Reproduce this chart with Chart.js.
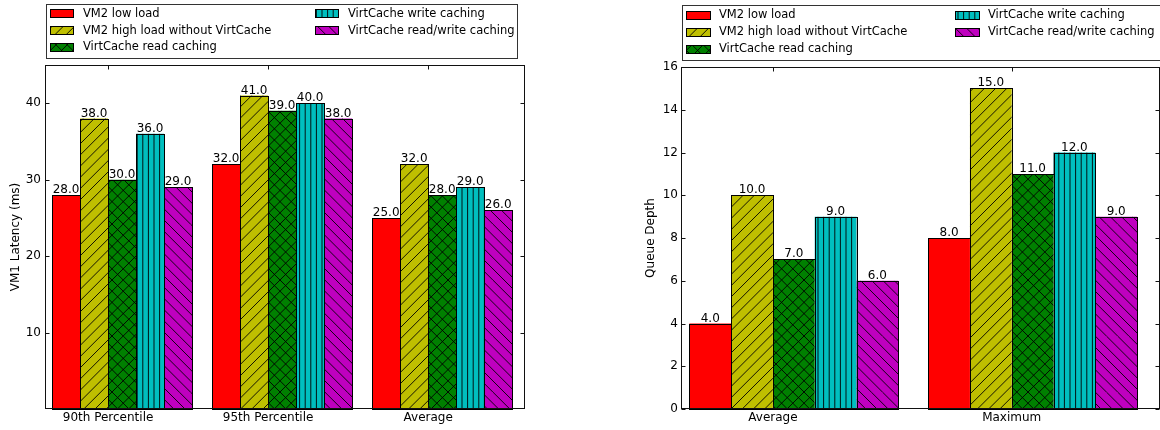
<!DOCTYPE html>
<html>
<head>
<meta charset="utf-8">
<title>VirtCache: VM1 latency and queue depth</title>
<script src="https://cdn.jsdelivr.net/npm/chart.js@4/dist/chart.umd.min.js"></script>
<style>
  html, body { margin: 0; padding: 0; background: #fff; }
  #wrap { position: relative; width: 1160px; height: 430px; }
  #latency { position: absolute; left: 0; top: 0; }
  #queue { position: absolute; left: 580px; top: 0; }
</style>
</head>
<body>
<div id="wrap">
  <canvas id="latency" width="580" height="430"></canvas>
  <canvas id="queue" width="580" height="430"></canvas>
</div>
<script>
// ---- data ----
const seriesNames = [
  'VM2 low load',
  'VM2 high load without VirtCache',
  'VirtCache read caching',
  'VirtCache write caching',
  'VirtCache read/write caching'
];

const latencyCategories = ['90th Percentile', '95th Percentile', 'Average'];
const latencyLowLoad       = [28, 32, 25];
const latencyHighLoad      = [38, 41, 32];
const latencyReadCache     = [30, 39, 28];
const latencyWriteCache    = [36, 40, 29];
const latencyReadWrite     = [29, 38, 26];
const latencyTicks         = [10, 20, 30, 40];

const queueCategories = ['Average', 'Maximum'];
const queueLowLoad    = [4, 8];
const queueHighLoad   = [10, 15];
const queueReadCache  = [7, 11];
const queueWriteCache = [9, 12];
const queueReadWrite  = [6, 9];
const queueTicks      = [0, 2, 4, 6, 8, 10, 12, 14, 16];

// ---- styling ----
Chart.defaults.font.family = "'DejaVu Sans', 'Liberation Sans', sans-serif";
Chart.defaults.color = '#000';

const seriesColors = ['#ff0000', '#bfbf00', '#008000', '#00bfbf', '#bf00bf'];
const seriesHatches = [null, '/', 'x', '|', '\\'];

// Each group of five bars spans 0.875 of one category unit; the tick for
// a group sits at the left edge of its third bar.
const GROUP = 0.875;
const BAR = GROUP / 5;

function makeHatch(bg, kind) {
  if (!kind) return bg;
  const size = 56;
  const c = document.createElement('canvas');
  c.width = size; c.height = size;
  const g = c.getContext('2d');
  g.fillStyle = bg;
  g.fillRect(0, 0, size, size);
  g.strokeStyle = '#000';
  g.lineWidth = 0.9;
  g.beginPath();
  if (kind === '|') {
    for (let x = 2.8; x < size; x += 5.6) { g.moveTo(x, 0); g.lineTo(x, size); }
  }
  if (kind === '/' || kind === 'x') {
    for (let k = -size; k <= 2 * size; k += 11.2) { g.moveTo(k, size); g.lineTo(k + size, 0); }
  }
  if (kind === '\\' || kind === 'x') {
    for (let k = -size; k <= 2 * size; k += 11.2) { g.moveTo(k, 0); g.lineTo(k + size, size); }
  }
  g.stroke();
  return g.createPattern(c, 'repeat');
}

const seriesFills = seriesColors.map((c, i) => makeHatch(c, seriesHatches[i]));

function buildDatasets(seriesValues) {
  return seriesValues.map((values, s) => ({
    label: seriesNames[s],
    data: values.map((v, i) => ({ x: i + GROUP / 2, y: v })),
    backgroundColor: seriesFills[s],
    borderWidth: 0,
    categoryPercentage: GROUP,
    barPercentage: 1
  }));
}

// Bar outlines, value labels, the axes box and inward tick marks.
const axesBox = {
  id: 'axesBox',
  afterDatasetsDraw(chart) {
    const { ctx, chartArea: a, scales: { x, y } } = chart;
    ctx.save();
    ctx.strokeStyle = '#000';
    ctx.lineWidth = 1;
    chart.data.datasets.forEach((ds, i) => {
      chart.getDatasetMeta(i).data.forEach((el) => {
        const l = Math.round(el.x - el.width / 2) + 0.5;
        const r = Math.round(el.x + el.width / 2) + 0.5;
        const t = Math.round(el.y) + 0.5;
        const b = Math.round(el.base) + 0.5;
        ctx.strokeRect(l, t, r - l, b - t);
      });
    });

    ctx.fillStyle = '#000';
    ctx.font = "12px 'DejaVu Sans'";
    ctx.textAlign = 'center';
    ctx.textBaseline = 'alphabetic';
    chart.data.datasets.forEach((ds, i) => {
      chart.getDatasetMeta(i).data.forEach((el, j) => {
        ctx.fillText(ds.data[j].y.toFixed(1), el.x, el.y - 2);
      });
    });

    const L = Math.round(a.left) + 0.5, R = Math.round(a.right) - 0.5;
    const T = Math.round(a.top) + 0.5, B = Math.round(a.bottom) - 0.5;
    ctx.strokeStyle = '#111';
    ctx.strokeRect(L, T, R - L, B - T);
    ctx.beginPath();
    const len = 4;
    y.ticks.forEach((t) => {
      const py = Math.round(y.getPixelForValue(t.value)) + 0.5;
      ctx.moveTo(L, py); ctx.lineTo(L + len, py);
      ctx.moveTo(R, py); ctx.lineTo(R - len, py);
    });
    x.ticks.forEach((t) => {
      const px = Math.round(x.getPixelForValue(t.value)) + 0.5;
      ctx.moveTo(px, B); ctx.lineTo(px, B - len);
      ctx.moveTo(px, T); ctx.lineTo(px, T + len);
    });
    ctx.stroke();
    ctx.restore();
  }
};

// Boxed two-column legend above the plot, filled column by column.
const boxLegend = {
  id: 'boxLegend',
  afterDraw(chart, args, opts) {
    const { ctx } = chart;
    const items = chart.data.datasets;
    const perCol = Math.ceil(items.length / 2);
    ctx.save();
    ctx.fillStyle = '#fff';
    ctx.fillRect(opts.box[0], opts.box[1], opts.box[2] - opts.box[0], opts.box[3] - opts.box[1]);
    ctx.strokeStyle = '#333';
    ctx.lineWidth = 1;
    ctx.strokeRect(Math.round(opts.box[0]) + 0.5, Math.round(opts.box[1]) + 0.5,
                   Math.round(opts.box[2] - opts.box[0]), Math.round(opts.box[3] - opts.box[1]));
    ctx.font = opts.fontSize + "px 'DejaVu Sans'";
    ctx.textAlign = 'left';
    ctx.textBaseline = 'middle';
    items.forEach((ds, i) => {
      const col = Math.floor(i / perCol);
      const row = i % perCol;
      const sx = opts.cols[col];
      const cy = opts.rows[row];
      const sw = opts.swatch[0], sh = opts.swatch[1];
      const top = Math.round(cy - sh / 2);
      ctx.fillStyle = ds.backgroundColor;
      ctx.fillRect(sx, top, sw, sh);
      ctx.strokeStyle = '#000';
      ctx.strokeRect(sx + 0.5, top + 0.5, sw, sh);
      ctx.fillStyle = '#000';
      ctx.fillText(ds.label, sx + opts.textGap, cy + 0.5);
    });
    ctx.restore();
  }
};

function makeChart(canvasId, cfg) {
  return new Chart(document.getElementById(canvasId), {
    type: 'bar',
    data: { datasets: buildDatasets(cfg.series) },
    options: {
      responsive: false,
      animation: false,
      devicePixelRatio: 1,
      layout: { padding: cfg.padding },
      plugins: {
        legend: { display: false },
        tooltip: { enabled: false },
        boxLegend: cfg.legend
      },
      scales: {
        x: {
          type: 'linear',
          offset: false,
          min: cfg.xRange[0],
          max: cfg.xRange[1],
          grid: { display: false, drawTicks: false, offset: false },
          border: { display: false },
          afterBuildTicks: (axis) => {
            axis.ticks = cfg.categories.map((c, i) => ({ value: i + 2 * BAR }));
          },
          afterFit: (axis) => { axis.height = 21; },
          ticks: {
            autoSkip: false,
            maxRotation: 0,
            padding: 2,
            font: { size: 12 },
            color: '#000',
            callback: (v, i) => cfg.categories[i]
          }
        },
        y: {
          min: 0,
          max: cfg.yMax,
          grid: { display: false, drawTicks: false },
          border: { display: false },
          afterBuildTicks: (axis) => {
            axis.ticks = cfg.yTicks.map((v) => ({ value: v }));
          },
          afterFit: (axis) => { axis.width = cfg.yWidth; },
          ticks: { padding: cfg.yTickPad, font: { size: 12 }, color: '#000' },
          title: {
            display: true,
            text: cfg.yTitle,
            font: { size: 12 },
            color: '#000',
            padding: { top: cfg.yTitlePad, bottom: 0 }
          }
        }
      }
    },
    plugins: [axesBox, boxLegend]
  });
}

makeChart('latency', {
  series: [latencyLowLoad, latencyHighLoad, latencyReadCache, latencyWriteCache, latencyReadWrite],
  categories: latencyCategories,
  yTicks: latencyTicks,
  yMax: 45,
  yTitle: 'VM1 Latency (ms)',
  xRange: [-0.044, 2.955],
  padding: { left: 0, right: 55, top: 65, bottom: 0 },
  yWidth: 45,
  yTickPad: 4,
  yTitlePad: 9,
  legend: {
    box: [45.5, 3.5, 516, 57.5],
    cols: [50, 315],
    rows: [13.3, 30.3, 47],
    swatch: [23, 8],
    textGap: 33,
    fontSize: 11.5
  }
});

makeChart('queue', {
  series: [queueLowLoad, queueHighLoad, queueReadCache, queueWriteCache, queueReadWrite],
  categories: queueCategories,
  yTicks: queueTicks,
  yMax: 16,
  yTitle: 'Queue Depth',
  xRange: [-0.035, 1.971],
  padding: { left: 0, right: 0, top: 67, bottom: 0 },
  yWidth: 101,
  yTickPad: 3,
  yTitlePad: 63.5,
  legend: {
    box: [101.5, 4.5, 579, 59.5],
    cols: [106, 375],
    rows: [14.5, 31.7, 48.7],
    swatch: [24, 8],
    textGap: 33,
    fontSize: 11.5
  }
});
</script>
</body>
</html>
